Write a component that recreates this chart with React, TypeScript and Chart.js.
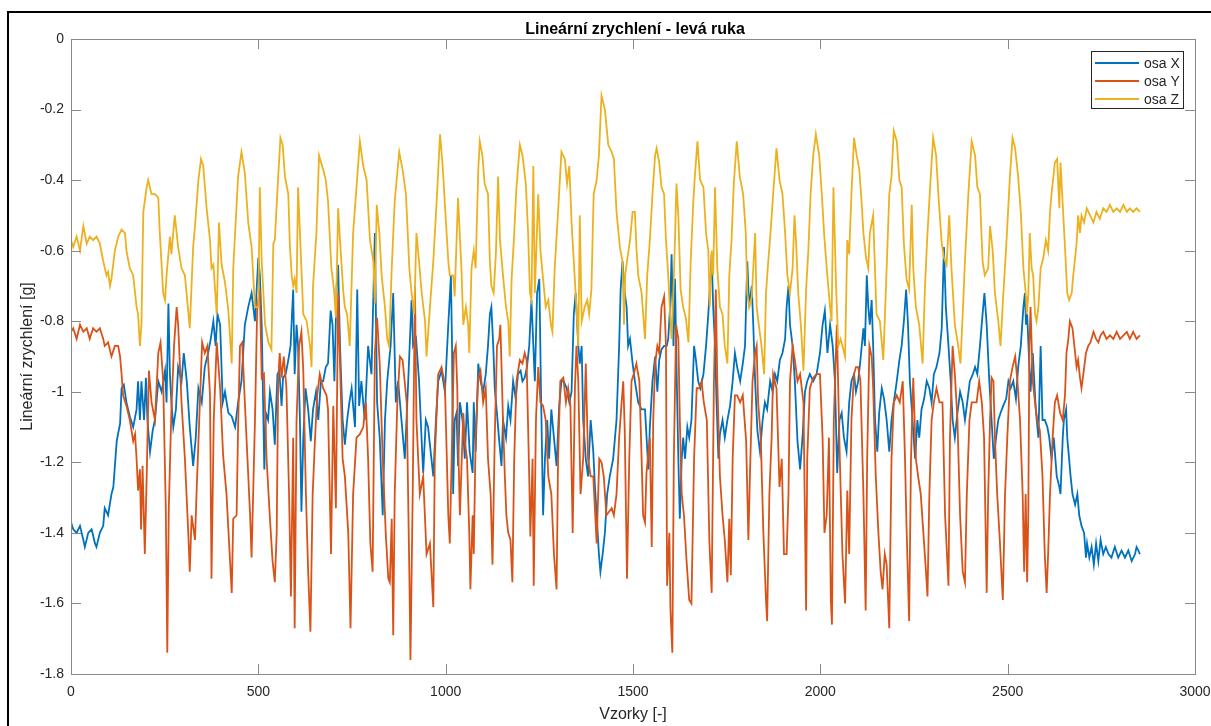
import React, { useEffect, useRef } from "react";
import { Chart, registerables } from "chart.js";

Chart.register(...registerables);

const chartTitle = "Lineární zrychlení - levá ruka";
const xAxisLabel = "Vzorky [-]";
const yAxisLabel = "Lineární zrychlení [g]";
const seriesNames = ["osa X", "osa Y", "osa Z"];
const seriesColors = ["#0072BD", "#D95319", "#EDB120"];
const xTicks = [0, 500, 1000, 1500, 2000, 2500, 3000];
const xTickLabels = ["0", "500", "1000", "1500", "2000", "2500", "3000"];
const yTicks = [-1.8, -1.6, -1.4, -1.2, -1, -0.8, -0.6, -0.4, -0.2, 0];
const yTickLabels = ["-1.8", "-1.6", "-1.4", "-1.2", "-1", "-0.8", "-0.6", "-0.4", "-0.2", "0"];

// [sample, value]
const osaX: number[][] = [
  [0,-1.37],[6,-1.39],[15,-1.40],[24,-1.38],[33,-1.42],[37,-1.44],[46,-1.40],[55,-1.39],[64,-1.43],[68,-1.44],[77,-1.40],[86,-1.38],[90,-1.33],[99,-1.35],[108,-1.29],[113,-1.27],[122,-1.14],[131,-1.09],[135,-0.99],[141,-0.98],[148,-1.03],[157,-1.07],[166,-1.10],[175,-1.05],[179,-0.97],[184,-1.08],[188,-0.97],[195,-1.08],[200,-0.96],[204,-1.08],[211,-1.17],[218,-1.11],[224,-1.08],[233,-0.97],[242,-1.00],[251,-0.94],[255,-1.03],[260,-0.75],[264,-0.95],[268,-1.03],[273,-1.10],[280,-1.05],[286,-0.93],[295,-0.97],[301,-0.89],[309,-0.97],[317,-1.10],[326,-1.21],[333,-1.13],[340,-0.99],[349,-1.03],[357,-0.93],[366,-0.89],[373,-0.85],[380,-0.80],[386,-0.87],[391,-0.78],[398,-0.81],[405,-1.03],[411,-1.00],[420,-1.06],[429,-1.07],[438,-1.10],[446,-1.03],[455,-0.97],[464,-0.81],[473,-0.76],[482,-0.72],[491,-0.80],[500,-0.62],[504,-0.67],[509,-0.81],[516,-1.22],
  [520,-1.06],[526,-1.08],[531,-1.00],[538,-1.05],[544,-1.15],[547,-1.06],[551,-0.95],[556,-0.94],[562,-1.04],[566,-0.96],[573,-0.95],[580,-0.91],[586,-0.87],[593,-0.71],[597,-0.95],[602,-0.81],[606,-0.87],[611,-1.08],[615,-1.34],[620,-1.13],[626,-0.99],[633,-1.05],[640,-1.14],[646,-1.05],[654,-1.00],[660,-1.08],[667,-0.97],[673,-0.97],[680,-0.93],[686,-0.92],[693,-0.77],[698,-0.81],[703,-0.97],[709,-0.70],[713,-0.64],[718,-0.87],[725,-1.08],[731,-1.15],[737,-1.08],[743,-1.03],[749,-0.99],[758,-1.10],[764,-0.71],[769,-1.04],[775,-0.97],[784,-1.08],[793,-0.87],[802,-0.95],[811,-0.55],[817,-1.03],[824,-1.13],[832,-1.35],[838,-1.08],[844,-0.97],[853,-0.87],[860,-0.72],[867,-1.03],[873,-0.97],[882,-1.08],[891,-1.19],[900,-0.97],[909,-0.74],[913,-0.87],[921,-0.85],[929,-0.97],[936,-1.14],[940,-1.23],[947,-1.08],[953,-1.10],[962,-1.19],[967,-1.24],[974,-1.08],[980,-0.97],[989,-0.94],[998,-1.00],[1007,-0.81],[1014,-0.67],
  [1017,-0.87],[1020,-1.29],[1024,-1.08],[1029,-1.06],[1033,-1.21],[1038,-1.03],[1045,-1.08],[1051,-1.19],[1057,-1.03],[1064,-1.17],[1072,-1.23],[1075,-1.03],[1080,-1.17],[1087,-0.92],[1093,-0.97],[1100,-1.00],[1107,-0.95],[1113,-0.87],[1118,-0.78],[1122,-0.76],[1127,-0.87],[1131,-0.99],[1136,-1.05],[1143,-1.14],[1149,-1.21],[1153,-1.08],[1161,-1.13],[1167,-1.04],[1173,-1.08],[1180,-0.97],[1187,-1.02],[1193,-0.95],[1200,-0.94],[1205,-0.97],[1211,-0.96],[1217,-0.93],[1223,-0.87],[1229,-0.74],[1234,-0.87],[1238,-0.97],[1244,-0.72],[1250,-0.68],[1254,-0.97],[1260,-1.35],[1265,-1.19],[1271,-1.08],[1276,-1.19],[1282,-1.05],[1289,-1.13],[1296,-1.21],[1303,-1.04],[1309,-0.97],[1315,-0.97],[1323,-0.99],[1330,-1.03],[1336,-1.00],[1342,-0.78],[1347,-0.72],[1354,-0.87],[1358,-0.92],[1363,-0.87],[1367,-1.08],[1374,-1.19],[1380,-1.24],[1387,-1.08],[1394,-1.17],[1398,-1.26],[1403,-1.35],[1409,-1.46],[1413,-1.51],[1419,-1.46],[1425,-1.40],[1431,-1.29],[1438,-1.24],[1447,-1.19],[1456,-1.08],[1463,-0.87],[1467,-0.71],[1472,-0.63],[1478,-0.72],[1483,-0.76],[1487,-0.87],[1492,-0.85],[1499,-0.92],[1505,-0.97],[1514,-1.03],[1523,-1.05],[1532,-1.05],
  [1541,-1.22],[1545,-1.10],[1552,-0.97],[1559,-0.90],[1565,-1.00],[1570,-0.91],[1576,-0.88],[1583,-0.87],[1590,-0.87],[1594,-0.85],[1599,-0.76],[1603,-0.61],[1608,-0.87],[1612,-0.68],[1616,-0.92],[1621,-1.19],[1625,-1.36],[1630,-1.19],[1634,-1.13],[1639,-1.19],[1645,-1.10],[1650,-1.13],[1656,-1.08],[1663,-0.87],[1668,-0.91],[1674,-0.97],[1680,-0.99],[1688,-0.95],[1695,-0.87],[1701,-0.78],[1705,-0.71],[1710,-0.61],[1714,-0.76],[1719,-0.87],[1723,-1.03],[1728,-1.19],[1732,-1.12],[1739,-1.08],[1745,-1.13],[1752,-1.08],[1759,-1.04],[1766,-0.97],[1772,-0.89],[1778,-0.93],[1786,-0.97],[1793,-0.92],[1799,-0.87],[1805,-0.63],[1810,-0.76],[1817,-0.70],[1821,-0.81],[1826,-0.97],[1832,-1.11],[1839,-1.17],[1846,-1.08],[1852,-1.03],[1858,-1.05],[1866,-0.97],[1873,-1.00],[1879,-0.95],[1885,-0.97],[1892,-0.91],[1899,-0.89],[1906,-0.85],[1910,-0.76],[1915,-0.70],[1919,-0.81],[1926,-0.87],[1932,-0.97],[1939,-1.14],[1946,-1.22],[1953,-1.12],[1959,-1.00],[1965,-0.97],[1972,-0.95],[1981,-0.97],[1990,-0.95],[1999,-0.89],[2006,-0.81],[2012,-0.77],[2019,-0.89],[2026,-0.81],[2033,-0.87],[2039,-0.97],[2045,-1.23],
  [2051,-1.08],[2057,-1.06],[2063,-1.13],[2070,-1.17],[2077,-1.03],[2083,-0.97],[2090,-0.95],[2095,-1.00],[2101,-0.97],[2107,-0.91],[2115,-0.82],[2119,-0.87],[2124,-0.67],[2128,-0.76],[2132,-0.81],[2137,-0.74],[2141,-0.87],[2146,-1.08],[2152,-1.17],[2157,-1.06],[2164,-0.99],[2170,-1.02],[2177,-1.08],[2184,-1.17],[2190,-1.08],[2196,-1.03],[2204,-0.97],[2211,-0.91],[2217,-0.87],[2223,-0.80],[2229,-0.71],[2234,-0.81],[2239,-0.97],[2246,-1.08],[2253,-1.19],[2259,-1.08],[2264,-1.13],[2270,-1.05],[2277,-1.02],[2284,-0.97],[2291,-0.99],[2297,-1.03],[2303,-0.95],[2310,-0.93],[2318,-0.89],[2324,-0.82],[2330,-0.59],[2335,-0.76],[2342,-0.87],[2348,-0.97],[2353,-1.08],[2359,-1.13],[2366,-1.06],[2373,-1.00],[2380,-1.03],[2386,-1.08],[2392,-1.03],[2399,-0.97],[2407,-0.95],[2413,-0.93],[2419,-0.95],[2426,-0.87],[2433,-0.78],[2438,-0.72],[2444,-0.81],[2451,-0.97],[2457,-1.08],[2463,-1.19],[2469,-1.13],[2475,-1.08],[2481,-1.06],[2488,-1.04],[2496,-1.02],[2502,-0.97],[2508,-0.99],[2515,-0.97],[2522,-1.02],[2528,-0.93],[2535,-0.87],[2542,-0.76],
  [2546,-0.72],[2549,-0.81],[2552,-0.78],[2558,-0.93],[2561,-1.00],[2567,-0.89],[2570,-0.95],[2575,-1.05],[2582,-1.13],[2588,-0.87],[2593,-1.08],[2599,-1.08],[2606,-1.10],[2611,-1.13],[2617,-1.19],[2623,-1.13],[2631,-1.24],[2638,-1.27],[2641,-1.29],[2647,-1.13],[2650,-1.08],[2656,-1.05],[2659,-1.13],[2664,-1.19],[2668,-1.24],[2673,-1.29],[2680,-1.32],[2686,-1.29],[2691,-1.35],[2697,-1.38],[2704,-1.40],[2709,-1.47],[2712,-1.43],[2718,-1.47],[2724,-1.44],[2730,-1.49],[2736,-1.43],[2742,-1.48],[2748,-1.42],[2755,-1.46],[2762,-1.44],[2769,-1.46],[2777,-1.47],[2786,-1.44],[2795,-1.47],[2804,-1.45],[2813,-1.47],[2822,-1.45],[2831,-1.48],[2840,-1.46],[2844,-1.44],[2849,-1.45],[2853,-1.46],
];

const osaY: number[][] = [
  [0,-0.83],[6,-0.82],[15,-0.85],[24,-0.81],[33,-0.83],[42,-0.82],[50,-0.85],[59,-0.82],[68,-0.83],[77,-0.82],[86,-0.85],[90,-0.87],[99,-0.86],[108,-0.90],[117,-0.87],[126,-0.87],[131,-0.90],[135,-0.95],[139,-1.01],[148,-1.04],[157,-1.08],[166,-1.14],[171,-1.12],[175,-1.19],[179,-1.28],[184,-1.22],[187,-1.39],[191,-1.21],[197,-1.46],[202,-1.24],[208,-0.94],[215,-1.03],[224,-1.08],[233,-0.89],[239,-0.86],[246,-0.97],[253,-1.33],[257,-1.74],[261,-1.33],[268,-1.05],[275,-0.87],[282,-0.76],[286,-0.81],[295,-1.03],[304,-1.19],[313,-1.40],[317,-1.51],[322,-1.35],[331,-1.42],[335,-1.29],[344,-1.03],[350,-0.86],[357,-0.89],[364,-0.87],[371,-1.01],[375,-1.53],[381,-1.08],[389,-0.86],[398,-0.99],[406,-1.18],[415,-1.29],[422,-1.43],[429,-1.57],[433,-1.36],[442,-1.35],[446,-1.10],[451,-0.87],[457,-0.86],[464,-1.03],[471,-1.19],[478,-1.35],[482,-1.47],[491,-1.08],[497,-0.76],[504,-0.71],[509,-0.96],[515,-0.95],[522,-1.19],
  [531,-1.36],[538,-1.48],[544,-1.54],[549,-1.40],[553,-0.97],[557,-0.89],[562,-0.96],[568,-0.90],[575,-0.99],[582,-1.29],[587,-1.58],[593,-1.13],[597,-1.67],[602,-1.08],[609,-0.87],[615,-0.83],[620,-0.94],[627,-1.29],[633,-1.51],[639,-1.68],[645,-1.29],[651,-1.14],[657,-1.01],[664,-0.95],[673,-0.99],[682,-1.01],[686,-1.05],[694,-1.46],[700,-1.04],[707,-1.33],[713,-0.72],[718,-0.92],[725,-1.19],[731,-1.24],[740,-1.40],[746,-1.67],[753,-1.29],[762,-1.13],[771,-1.12],[780,-1.10],[787,-1.03],[793,-1.19],[799,-1.43],[805,-1.51],[811,-0.89],[817,-0.79],[824,-0.92],[832,-1.19],[840,-1.40],[847,-1.53],[851,-1.54],[856,-1.36],[860,-1.69],[864,-1.29],[871,-1.03],[878,-0.90],[885,-0.91],[896,-1.03],[903,-1.51],[906,-1.76],[912,-1.29],[918,-0.70],[922,-1.08],[931,-1.29],[940,-1.24],[949,-1.46],[958,-1.43],[967,-1.61],[971,-1.19],[980,-0.95],[989,-0.93],[998,-0.98],[1007,-1.35],[1011,-1.43],
  [1022,-0.89],[1027,-0.87],[1031,-0.99],[1033,-1.13],[1038,-1.35],[1042,-1.22],[1047,-1.06],[1051,-1.14],[1057,-1.19],[1063,-1.40],[1066,-1.56],[1072,-1.35],[1075,-1.46],[1080,-1.13],[1087,-0.96],[1093,-0.94],[1100,-1.03],[1107,-0.99],[1113,-1.19],[1120,-1.29],[1125,-1.49],[1131,-1.13],[1137,-0.87],[1143,-0.85],[1146,-0.81],[1153,-1.08],[1158,-1.24],[1162,-1.35],[1167,-1.40],[1173,-1.42],[1178,-1.54],[1183,-1.19],[1189,-0.97],[1198,-0.91],[1205,-0.92],[1211,-0.89],[1216,-0.91],[1223,-1.24],[1226,-1.41],[1232,-1.19],[1235,-1.55],[1241,-1.08],[1247,-0.93],[1253,-1.03],[1260,-1.04],[1267,-1.08],[1274,-1.24],[1282,-1.29],[1289,-1.46],[1296,-1.56],[1300,-1.19],[1306,-0.97],[1314,-0.96],[1321,-1.03],[1327,-0.99],[1333,-1.04],[1339,-1.40],[1345,-0.99],[1349,-0.87],[1354,-0.97],[1360,-1.29],[1367,-1.19],[1374,-0.92],[1380,-1.19],[1387,-1.24],[1394,-1.24],[1403,-1.43],[1410,-1.19],[1416,-1.20],[1422,-1.24],[1429,-1.35],[1436,-1.34],[1443,-1.33],[1449,-1.35],[1456,-1.29],[1463,-1.13],[1469,-1.04],[1474,-0.97],[1478,-1.11],[1484,-1.53],[1490,-1.19],[1496,-0.97],[1502,-0.95],[1509,-0.92],[1517,-0.97],[1523,-1.19],[1527,-1.35],[1532,-1.37],[1536,-1.23],
  [1545,-1.13],[1550,-1.44],[1554,-1.08],[1559,-0.92],[1565,-0.87],[1570,-0.89],[1576,-0.76],[1583,-0.73],[1588,-0.87],[1591,-1.55],[1597,-1.40],[1600,-1.62],[1605,-1.74],[1609,-1.19],[1615,-0.81],[1621,-0.85],[1625,-1.08],[1630,-1.29],[1636,-1.35],[1643,-1.48],[1650,-1.59],[1656,-1.60],[1663,-1.19],[1670,-0.99],[1677,-0.99],[1683,-0.97],[1689,-1.03],[1697,-1.08],[1704,-1.43],[1710,-1.57],[1716,-0.97],[1721,-0.71],[1725,-0.97],[1732,-1.24],[1739,-1.35],[1745,-1.42],[1752,-1.54],[1757,-1.36],[1761,-1.52],[1766,-1.19],[1772,-1.01],[1778,-1.01],[1786,-1.03],[1793,-1.01],[1802,-1.14],[1808,-1.42],[1812,-1.24],[1819,-0.97],[1826,-0.89],[1830,-0.87],[1834,-1.03],[1841,-1.13],[1848,-1.40],[1855,-1.59],[1858,-1.65],[1864,-1.29],[1870,-1.13],[1874,-0.95],[1883,-0.99],[1891,-1.27],[1897,-1.19],[1903,-1.46],[1910,-1.46],[1915,-1.29],[1919,-0.97],[1926,-0.87],[1932,-0.91],[1939,-0.97],[1946,-0.95],[1955,-1.03],[1962,-1.62],[1965,-1.19],[1972,-0.99],[1981,-0.96],[1990,-0.95],[1999,-0.95],[2006,-1.13],[2011,-1.40],[2017,-1.35],[2023,-1.13],[2028,-1.59],[2031,-1.66],[2036,-1.08],[2044,-0.81],
  [2052,-1.19],[2059,-1.46],[2066,-1.60],[2072,-1.28],[2077,-1.46],[2083,-1.08],[2090,-0.95],[2095,-0.93],[2101,-0.93],[2107,-0.97],[2115,-1.29],[2121,-1.62],[2125,-1.19],[2131,-0.87],[2137,-0.90],[2141,-0.99],[2148,-1.24],[2155,-1.40],[2161,-1.51],[2166,-1.56],[2172,-1.46],[2177,-1.49],[2184,-1.67],[2190,-1.19],[2196,-1.03],[2204,-1.01],[2212,-1.03],[2220,-0.97],[2226,-1.19],[2230,-1.38],[2237,-1.65],[2242,-1.19],[2248,-0.96],[2255,-1.19],[2261,-1.24],[2268,-1.29],[2275,-1.40],[2282,-1.51],[2286,-1.58],[2291,-1.29],[2297,-1.08],[2303,-1.03],[2310,-0.99],[2318,-1.03],[2326,-1.03],[2333,-1.35],[2342,-1.55],[2346,-1.13],[2353,-0.87],[2359,-0.95],[2366,-1.08],[2373,-1.35],[2380,-1.51],[2386,-1.54],[2391,-1.29],[2398,-1.08],[2404,-1.03],[2410,-1.03],[2417,-1.03],[2424,-0.97],[2431,-1.03],[2437,-1.13],[2444,-1.57],[2448,-1.29],[2453,-1.08],[2457,-0.96],[2462,-0.97],[2466,-1.13],[2472,-1.29],[2479,-1.42],[2487,-1.59],[2493,-1.29],[2499,-1.13],[2506,-0.97],[2513,-0.93],[2520,-0.90],[2526,-0.97],[2533,-1.08],[2540,-1.29],[2544,-1.51],
  [2548,-1.29],[2552,-1.54],[2555,-1.35],[2558,-0.87],[2561,-0.76],[2567,-0.97],[2573,-1.03],[2579,-1.08],[2586,-1.11],[2593,-1.24],[2599,-1.46],[2604,-1.57],[2608,-1.46],[2613,-1.29],[2620,-1.13],[2626,-1.03],[2632,-1.01],[2640,-1.06],[2647,-1.08],[2653,-1.01],[2657,-0.89],[2662,-0.85],[2666,-0.80],[2673,-0.82],[2680,-0.89],[2684,-0.93],[2688,-0.91],[2693,-0.96],[2697,-0.99],[2702,-0.95],[2709,-0.89],[2715,-0.87],[2721,-0.86],[2729,-0.83],[2736,-0.85],[2742,-0.86],[2748,-0.84],[2755,-0.83],[2764,-0.85],[2773,-0.84],[2782,-0.85],[2791,-0.83],[2800,-0.85],[2809,-0.84],[2818,-0.83],[2826,-0.85],[2835,-0.83],[2844,-0.85],[2853,-0.84],
];

const osaZ: number[][] = [
  [0,-0.57],[6,-0.59],[15,-0.56],[24,-0.60],[33,-0.53],[42,-0.58],[50,-0.56],[59,-0.57],[68,-0.56],[77,-0.58],[86,-0.63],[95,-0.67],[99,-0.66],[104,-0.70],[108,-0.68],[117,-0.60],[126,-0.56],[135,-0.54],[144,-0.55],[148,-0.60],[157,-0.65],[166,-0.67],[171,-0.72],[175,-0.76],[179,-0.78],[184,-0.87],[188,-0.81],[193,-0.49],[202,-0.42],[206,-0.40],[215,-0.44],[224,-0.44],[233,-0.45],[237,-0.55],[246,-0.72],[251,-0.74],[255,-0.67],[264,-0.56],[268,-0.61],[277,-0.50],[286,-0.59],[295,-0.65],[304,-0.67],[317,-0.82],[326,-0.59],[331,-0.53],[340,-0.40],[347,-0.34],[353,-0.36],[362,-0.48],[371,-0.57],[375,-0.65],[380,-0.64],[389,-0.78],[395,-0.52],[402,-0.64],[411,-0.69],[420,-0.77],[429,-0.92],[433,-0.65],[438,-0.55],[446,-0.39],[455,-0.32],[464,-0.38],[473,-0.52],[482,-0.59],[491,-0.76],[500,-0.76],[504,-0.42],[509,-0.63],[518,-0.81],[527,-0.86],
  [535,-0.88],[540,-0.58],[544,-0.57],[553,-0.39],[559,-0.28],[565,-0.30],[571,-0.39],[580,-0.44],[584,-0.58],[589,-0.67],[593,-0.70],[597,-0.68],[602,-0.72],[606,-0.42],[611,-0.55],[620,-0.78],[629,-0.80],[638,-0.87],[642,-0.93],[646,-0.70],[655,-0.55],[662,-0.33],[673,-0.37],[680,-0.40],[686,-0.46],[695,-0.65],[702,-0.71],[707,-0.79],[713,-0.48],[718,-0.57],[727,-0.72],[731,-0.76],[737,-0.78],[744,-0.87],[753,-0.55],[762,-0.42],[771,-0.29],[780,-0.36],[789,-0.40],[798,-0.57],[807,-0.63],[811,-0.75],[816,-0.47],[823,-0.55],[829,-0.67],[838,-0.76],[844,-0.85],[849,-0.87],[856,-0.65],[864,-0.46],[876,-0.32],[885,-0.37],[894,-0.44],[903,-0.65],[909,-0.72],[916,-0.78],[922,-0.55],[929,-0.63],[936,-0.72],[945,-0.80],[949,-0.90],[958,-0.76],[967,-0.63],[976,-0.46],[985,-0.27],[992,-0.36],[998,-0.47],[1007,-0.63],[1011,-0.67],
  [1020,-0.67],[1024,-0.73],[1033,-0.45],[1042,-0.65],[1047,-0.81],[1054,-0.76],[1060,-0.81],[1063,-0.89],[1069,-0.65],[1075,-0.60],[1080,-0.65],[1087,-0.37],[1091,-0.29],[1098,-0.33],[1104,-0.41],[1113,-0.44],[1118,-0.63],[1122,-0.70],[1128,-0.72],[1134,-0.61],[1140,-0.39],[1145,-0.57],[1153,-0.67],[1161,-0.76],[1167,-0.80],[1171,-0.90],[1176,-0.68],[1182,-0.57],[1189,-0.42],[1198,-0.30],[1205,-0.33],[1214,-0.41],[1220,-0.55],[1225,-0.72],[1229,-0.74],[1234,-0.36],[1238,-0.72],[1247,-0.44],[1253,-0.60],[1260,-0.68],[1267,-0.76],[1274,-0.74],[1281,-0.81],[1285,-0.83],[1291,-0.65],[1300,-0.49],[1309,-0.32],[1318,-0.34],[1324,-0.41],[1330,-0.36],[1336,-0.52],[1342,-0.63],[1349,-0.76],[1354,-0.87],[1358,-0.50],[1363,-0.80],[1371,-0.76],[1378,-0.74],[1383,-0.78],[1389,-0.71],[1395,-0.44],[1403,-0.40],[1409,-0.33],[1416,-0.16],[1425,-0.20],[1434,-0.30],[1443,-0.32],[1449,-0.34],[1456,-0.49],[1465,-0.59],[1472,-0.63],[1476,-0.81],[1479,-0.67],[1484,-0.63],[1492,-0.57],[1499,-0.49],[1505,-0.49],[1509,-0.59],[1514,-0.67],[1523,-0.72],[1532,-0.85],[1538,-0.67],[1545,-0.57],
  [1552,-0.44],[1559,-0.33],[1563,-0.31],[1570,-0.35],[1576,-0.42],[1583,-0.44],[1588,-0.57],[1594,-0.67],[1599,-0.78],[1603,-0.85],[1608,-0.71],[1612,-0.57],[1616,-0.41],[1621,-0.50],[1627,-0.71],[1634,-0.76],[1641,-0.79],[1648,-0.86],[1654,-0.63],[1661,-0.46],[1665,-0.39],[1672,-0.29],[1679,-0.40],[1688,-0.42],[1695,-0.55],[1701,-0.60],[1705,-0.76],[1710,-0.60],[1714,-0.67],[1719,-0.42],[1725,-0.65],[1732,-0.76],[1739,-0.78],[1745,-0.87],[1752,-0.92],[1757,-0.67],[1763,-0.57],[1769,-0.41],[1777,-0.29],[1785,-0.39],[1794,-0.44],[1801,-0.55],[1805,-0.72],[1810,-0.76],[1817,-0.73],[1826,-0.55],[1830,-0.76],[1837,-0.82],[1843,-0.87],[1850,-0.95],[1855,-0.72],[1861,-0.63],[1867,-0.55],[1874,-0.44],[1883,-0.31],[1891,-0.40],[1899,-0.44],[1906,-0.55],[1912,-0.67],[1919,-0.72],[1926,-0.65],[1931,-0.50],[1935,-0.57],[1941,-0.72],[1948,-0.81],[1955,-0.94],[1962,-0.71],[1968,-0.60],[1974,-0.44],[1981,-0.33],[1988,-0.27],[1997,-0.33],[2004,-0.44],[2010,-0.55],[2017,-0.65],[2026,-0.76],[2030,-0.80],[2035,-0.42],[2042,-0.70],
  [2048,-0.87],[2054,-0.85],[2059,-0.87],[2066,-0.90],[2072,-0.57],[2077,-0.61],[2083,-0.44],[2090,-0.28],[2097,-0.33],[2104,-0.37],[2110,-0.46],[2115,-0.55],[2122,-0.62],[2128,-0.65],[2132,-0.55],[2141,-0.50],[2150,-0.78],[2159,-0.80],[2168,-0.91],[2175,-0.71],[2184,-0.44],[2190,-0.39],[2196,-0.26],[2204,-0.29],[2211,-0.40],[2217,-0.42],[2223,-0.58],[2230,-0.68],[2237,-0.71],[2244,-0.47],[2248,-0.65],[2255,-0.76],[2264,-0.81],[2273,-0.92],[2279,-0.71],[2285,-0.57],[2293,-0.42],[2301,-0.28],[2309,-0.33],[2315,-0.44],[2324,-0.58],[2330,-0.62],[2337,-0.64],[2344,-0.50],[2350,-0.65],[2359,-0.81],[2368,-0.87],[2374,-0.92],[2380,-0.78],[2386,-0.63],[2395,-0.44],[2404,-0.29],[2413,-0.33],[2419,-0.42],[2426,-0.44],[2433,-0.63],[2439,-0.67],[2448,-0.65],[2453,-0.53],[2460,-0.60],[2466,-0.72],[2475,-0.80],[2481,-0.87],[2488,-0.73],[2496,-0.59],[2506,-0.39],[2513,-0.28],[2520,-0.31],[2528,-0.39],[2535,-0.49],[2542,-0.65],[2549,-0.73],
  [2551,-0.78],[2555,-0.73],[2559,-0.55],[2564,-0.65],[2568,-0.67],[2573,-0.78],[2577,-0.80],[2582,-0.76],[2588,-0.65],[2595,-0.62],[2602,-0.57],[2608,-0.60],[2613,-0.49],[2617,-0.44],[2622,-0.39],[2626,-0.35],[2632,-0.34],[2638,-0.48],[2641,-0.35],[2647,-0.47],[2653,-0.59],[2659,-0.72],[2664,-0.74],[2671,-0.72],[2675,-0.67],[2680,-0.62],[2684,-0.58],[2688,-0.50],[2693,-0.55],[2697,-0.50],[2704,-0.52],[2711,-0.48],[2720,-0.50],[2729,-0.52],[2737,-0.49],[2746,-0.51],[2755,-0.48],[2764,-0.49],[2773,-0.47],[2782,-0.49],[2791,-0.48],[2800,-0.49],[2809,-0.47],[2818,-0.49],[2826,-0.48],[2835,-0.49],[2844,-0.48],[2853,-0.49],
];

const seriesData = [osaX, osaY, osaZ];

const FONT = "'Liberation Sans', Arial, Helvetica, sans-serif";
const AXIS_GRAY = "#8a8a8a";
const TEXT_COLOR = "#262626";

const decorPlugin = {
  id: "matlabDecor",
  afterDatasetsDraw(chart: any) {
    const { ctx, chartArea: ca, scales } = chart;
    const xs = scales.x;
    const ys = scales.y;
    const tick = 10;
    ctx.save();
    // box
    ctx.strokeStyle = AXIS_GRAY;
    ctx.lineWidth = 1;
    ctx.strokeRect(Math.round(ca.left) + 0.5, Math.round(ca.top) + 0.5, Math.round(ca.right - ca.left), Math.round(ca.bottom - ca.top));
    ctx.beginPath();
    xTicks.forEach((v) => {
      const px = Math.round(xs.getPixelForValue(v)) + 0.5;
      ctx.moveTo(px, ca.bottom);
      ctx.lineTo(px, ca.bottom - tick);
      ctx.moveTo(px, ca.top);
      ctx.lineTo(px, ca.top + tick);
    });
    yTicks.forEach((v) => {
      const py = Math.round(ys.getPixelForValue(v)) + 0.5;
      ctx.moveTo(ca.left, py);
      ctx.lineTo(ca.left + tick, py);
      ctx.moveTo(ca.right, py);
      ctx.lineTo(ca.right - tick, py);
    });
    ctx.stroke();

    // title
    ctx.fillStyle = "#000000";
    ctx.font = `bold 16px ${FONT}`;
    ctx.textAlign = "center";
    ctx.textBaseline = "alphabetic";
    ctx.fillText(chartTitle, (ca.left + ca.right) / 2 + 2, 34);

    // axis labels
    ctx.fillStyle = TEXT_COLOR;
    ctx.font = `16px ${FONT}`;
    ctx.fillText(xAxisLabel, (ca.left + ca.right) / 2, 719);
    ctx.save();
    ctx.translate(32, (ca.top + ca.bottom) / 2);
    ctx.rotate(-Math.PI / 2);
    ctx.fillText(yAxisLabel, 0, 0);
    ctx.restore();

    // legend
    const lx = 1091, ly = 51, lw = 92, lh = 57;
    ctx.fillStyle = "#ffffff";
    ctx.fillRect(lx, ly, lw, lh);
    ctx.strokeStyle = "#262626";
    ctx.lineWidth = 1;
    ctx.strokeRect(lx + 0.5, ly + 0.5, lw, lh);
    ctx.font = `14px ${FONT}`;
    ctx.textAlign = "left";
    ctx.textBaseline = "middle";
    seriesNames.forEach((name, i) => {
      const cy = 63 + i * 18;
      ctx.strokeStyle = seriesColors[i];
      ctx.lineWidth = 1.8;
      ctx.beginPath();
      ctx.moveTo(1095, cy);
      ctx.lineTo(1139, cy);
      ctx.stroke();
      ctx.fillStyle = TEXT_COLOR;
      ctx.fillText(name, 1144, cy + 1);
    });
    ctx.restore();
  },
};

export default function App() {
  const canvasRef = useRef<HTMLCanvasElement | null>(null);

  useEffect(() => {
    const canvas = canvasRef.current;
    if (!canvas) return;
    const chart = new Chart(canvas, {
      type: "line",
      data: {
        datasets: seriesData.map((d, i) => ({
          label: seriesNames[i],
          data: d.map(([x, y]) => ({ x, y })),
          borderColor: seriesColors[i],
          backgroundColor: seriesColors[i],
          borderWidth: 1.8,
          pointRadius: 0,
          pointHoverRadius: 0,
          tension: 0,
          fill: false,
          order: 3 - i,
        })),
      },
      options: {
        animation: false,
        responsive: false,
        maintainAspectRatio: false,
        devicePixelRatio: 1,
        events: [],
        layout: { padding: { left: 0, right: 16, top: 39, bottom: 0 } },
        plugins: {
          legend: { display: false },
          title: { display: false },
          tooltip: { enabled: false },
        },
        scales: {
          x: {
            type: "linear",
            min: 0,
            max: 3000,
            grid: { display: false, drawTicks: false },
            border: { display: false },
            afterBuildTicks: (scale: any) => {
              scale.ticks = xTicks.map((v) => ({ value: v }));
            },
            afterFit: (scale: any) => {
              scale.height = 52;
              scale.paddingLeft = 0;
              scale.paddingRight = 0;
            },
            ticks: {
              autoSkip: false,
              maxRotation: 0,
              padding: 10,
              color: TEXT_COLOR,
              font: { family: FONT, size: 14 },
              callback: (value: any) => {
                const idx = xTicks.indexOf(Number(value));
                return idx >= 0 ? xTickLabels[idx] : "";
              },
            },
          },
          y: {
            type: "linear",
            min: -1.8,
            max: 0,
            grid: { display: false, drawTicks: false },
            border: { display: false },
            afterBuildTicks: (scale: any) => {
              scale.ticks = yTicks.map((v) => ({ value: v }));
            },
            afterFit: (scale: any) => {
              scale.width = 71;
              scale.paddingTop = 0;
              scale.paddingBottom = 0;
            },
            ticks: {
              autoSkip: false,
              padding: 7,
              color: TEXT_COLOR,
              font: { family: FONT, size: 14 },
              callback: (value: any) => {
                const v = Number(value);
                const idx = yTicks.findIndex((t) => Math.abs(t - v) < 1e-9);
                return idx >= 0 ? yTickLabels[idx] : "";
              },
            },
          },
        },
      } as any,
      plugins: [decorPlugin],
    });
    return () => {
      chart.destroy();
    };
  }, []);

  return (
    <div
      style={{
        position: "absolute",
        left: 0,
        top: 0,
        width: 1211,
        height: 726,
        overflow: "hidden",
        background: "#ffffff",
      }}
    >
      <div
        style={{
          position: "absolute",
          left: 7,
          top: 11,
          width: 1300,
          height: 800,
          border: "2px solid #000000",
          boxSizing: "border-box",
        }}
      />
      <canvas
        ref={canvasRef}
        width={1211}
        height={726}
        style={{ position: "absolute", left: 0, top: 0, width: 1211, height: 726 }}
      />
    </div>
  );
}
